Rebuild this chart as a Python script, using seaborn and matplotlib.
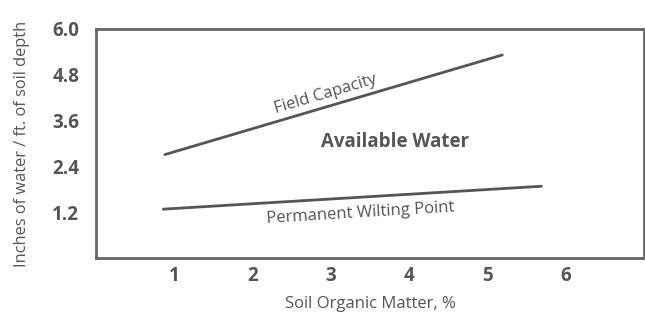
import numpy as np
import pandas as pd
import matplotlib
matplotlib.use("Agg")
import matplotlib.pyplot as plt
import seaborn as sns

# data
organic_matter = [0.88, 5.19]
field_capacity = [2.71, 5.32]
om_wilting = [0.86, 5.69]
wilting_point = [1.28, 1.88]

x_ticks = [1, 2, 3, 4, 5, 6]
y_ticks = [1.2, 2.4, 3.6, 4.8, 6.0]

fc_df = pd.DataFrame({"om": organic_matter, "water": field_capacity})
pwp_df = pd.DataFrame({"om": om_wilting, "water": wilting_point})

sns.set_style("white")
plt.rcParams["font.family"] = ["Open Sans", "DejaVu Sans"]

grey = "#555555"
axis_grey = "#666666"

fig = plt.figure(figsize=(6.45, 3.16), dpi=100)
ax = fig.add_axes([96 / 645, 1 - 258 / 316, 548 / 645, 229 / 316])

sns.lineplot(data=fc_df, x="om", y="water", ax=ax, color=grey, linewidth=2)
sns.lineplot(data=pwp_df, x="om", y="water", ax=ax, color=grey, linewidth=2)

ax.set_xlim(0, 7)
ax.set_ylim(0, 6.0)
ax.set_xticks(x_ticks)
ax.set_yticks(y_ticks)
ax.set_xticklabels([str(t) for t in x_ticks], fontsize=13.5, fontweight="bold", color=grey)
ax.set_yticklabels(["%.1f" % t for t in y_ticks], fontsize=13.5, fontweight="bold", color=grey)
ax.tick_params(direction="in", length=8, width=1.2, color=axis_grey, pad=12)
ax.tick_params(axis="x", pad=6)

for s in ax.spines.values():
    s.set_color(axis_grey)
    s.set_linewidth(2)

ax.set_xlabel("Soil Organic Matter, %", fontsize=12, color=grey, labelpad=7)
ax.set_ylabel("Inches of water / ft. of soil depth", fontsize=11.8, color=grey, labelpad=16)

ax.text(2.93, 4.30, "Field Capacity", rotation=16.5, fontsize=12,
        color=grey, ha="center", va="center", rotation_mode="anchor")
ax.text(3.82, 3.03, "Available Water", fontsize=13.5, fontweight="bold",
        color=grey, ha="center", va="center")
ax.text(3.38, 1.17, "Permanent Wilting Point", rotation=3.5, fontsize=12,
        color=grey, ha="center", va="center", rotation_mode="anchor")

fig.savefig("out.png", dpi=100)
